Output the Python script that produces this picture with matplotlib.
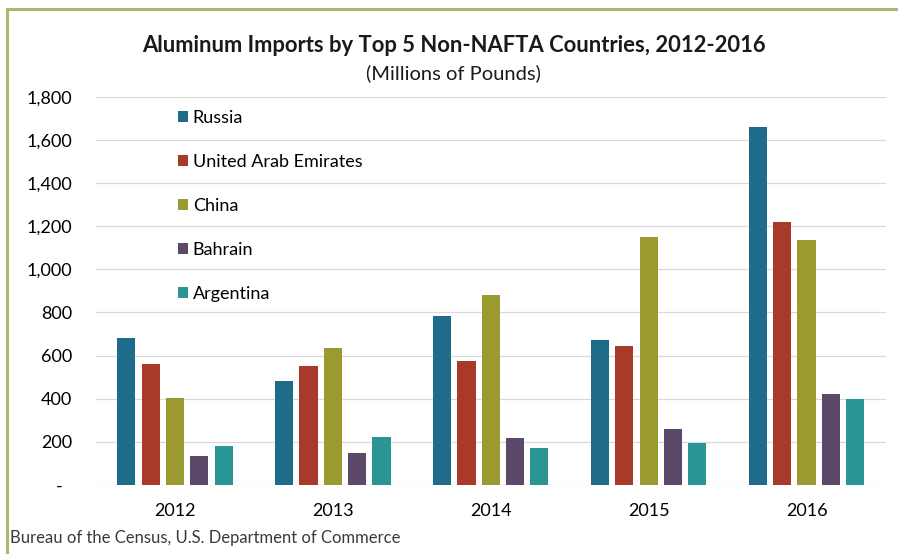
import numpy as np
import matplotlib.pyplot as plt
from matplotlib.patches import Rectangle

years = ['2012', '2013', '2014', '2015', '2016']
countries = ['Russia', 'United Arab Emirates', 'China', 'Bahrain', 'Argentina']
russia = [683, 482, 782, 674, 1660]
uae = [561, 553, 574, 643, 1221]
china = [405, 636, 882, 1149, 1136]
bahrain = [134, 147, 220, 259, 420]
argentina = [182, 224, 171, 193, 397]
colors = ['#1f6b8a', '#a83a2c', '#9a9a30', '#5c4868', '#2a9595']
yticks = [0, 200, 400, 600, 800, 1000, 1200, 1400, 1600, 1800]
ytick_labels = ['-  '] + [f'{v:,}' for v in yticks[1:]]

plt.rcParams['font.family'] = ['Lato', 'DejaVu Sans']

fig = plt.figure(figsize=(8.98, 5.54), dpi=100)
fig.patch.set_facecolor('white')

# olive border (cropped on right / bottom in the scan)
fig.patches.append(Rectangle((7 / 898, -0.1), 1.2, 1 - 9 / 554 + 0.1,
                             transform=fig.transFigure, fill=False,
                             edgecolor='#a9b871', linewidth=2.2))

ax = fig.add_axes([96 / 898, 1 - 485 / 554, (885.5 - 96) / 898, (485 - 96.7) / 554])

x = np.arange(len(years))
step = 0.154
width = 0.115
series = [russia, uae, china, bahrain, argentina]
for j, (name, vals) in enumerate(zip(countries, series)):
    ax.bar(x + (j - 2) * step, vals, width, color=colors[j], label=name, zorder=3)

ax.set_xlim(-0.5, len(years) - 0.5)
ax.set_ylim(0, 1800)
ax.set_yticks(yticks)
ax.set_yticklabels(ytick_labels, fontsize=13)
ax.set_xticks(x)
ax.set_xticklabels(years, fontsize=13)
ax.tick_params(axis='y', length=0, pad=17)
ax.tick_params(axis='x', length=0, pad=13)
ax.grid(axis='y', color='#d9d9d9', linewidth=0.9, zorder=0)
for s in ax.spines.values():
    s.set_visible(False)

leg = ax.legend(loc='upper left', bbox_to_anchor=(0.095, 0.985), frameon=False,
                fontsize=13, handlelength=0.55, handleheight=0.55, handletextpad=0.25,
                labelspacing=1.55, borderaxespad=0)

fig.text(0.505, 1 - 45 / 554, 'Aluminum Imports by Top 5 Non-NAFTA Countries, 2012-2016',
         ha='center', va='center', fontsize=15.8, fontweight='bold', color='#1a1a1a')
fig.text(0.505, 1 - 73 / 554, '(Millions of Pounds)', ha='center', va='center',
         fontsize=14.5, color='#1a1a1a')
fig.text(10 / 898, 1 - 538 / 554, 'Bureau of the Census, U.S. Department of Commerce',
         ha='left', va='center', fontsize=12, color='#3a3a3a')

fig.savefig('out.png', dpi=100)
